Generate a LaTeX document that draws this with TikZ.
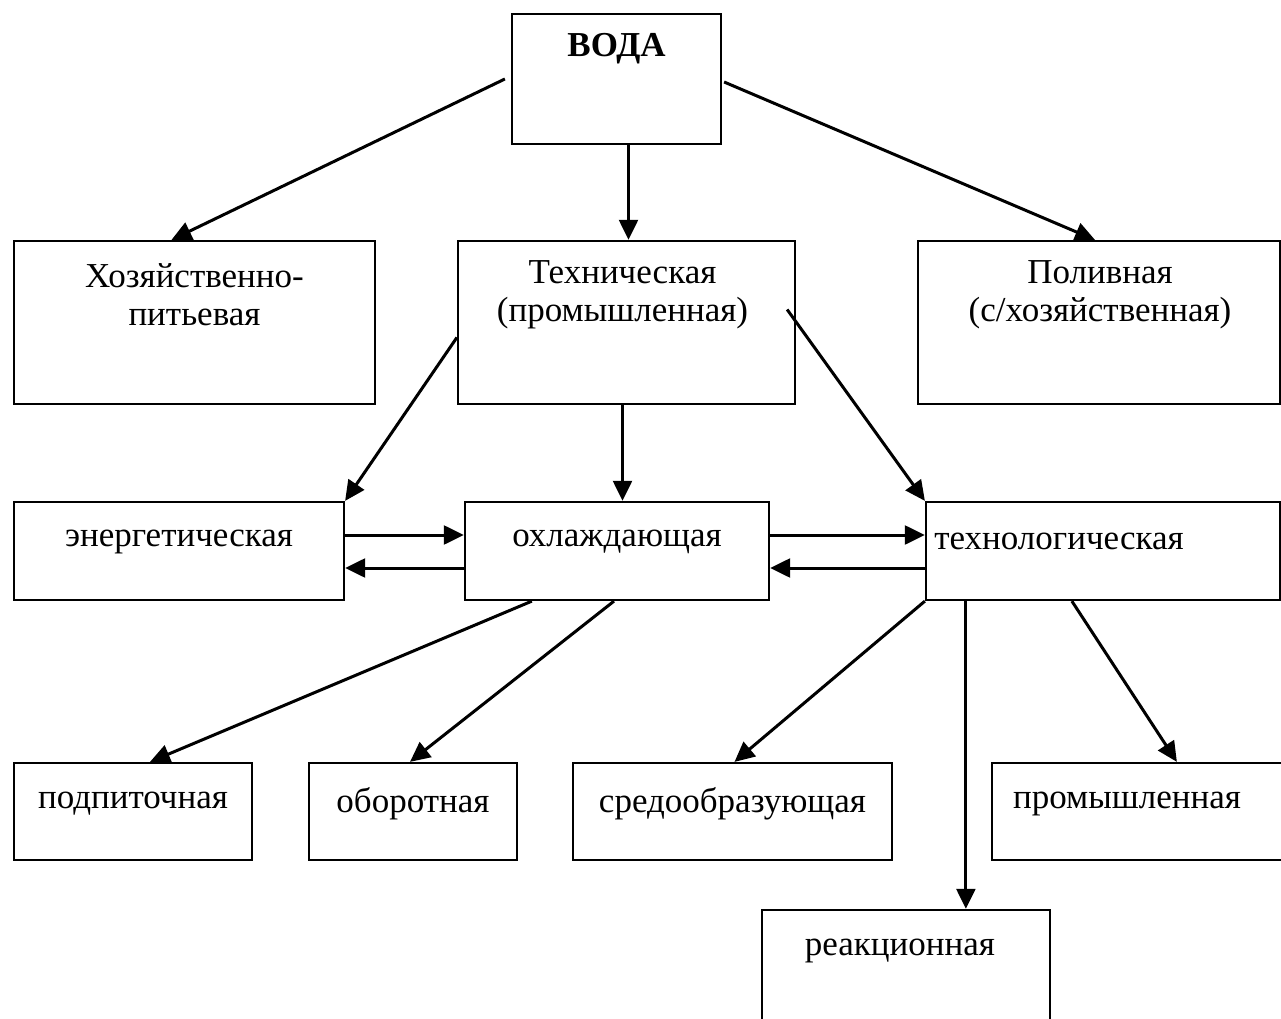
\documentclass[tikz,border=0pt]{standalone}
\usepackage{fontspec}
\setmainfont{Liberation Serif}
\usetikzlibrary{arrows.meta, calc}

\tikzset{
  box/.style 2 args={draw, line width=0.9pt, inner sep=0pt,
    minimum width=#1*0.4pt, minimum height=#2*0.4pt},
  lbl/.style={inner sep=0pt, align=center, font=\fontsize{14}{15}\selectfont},
  arr/.style={-{Triangle[length=8pt,width=7.5pt]}, line width=1.2pt}
}

\begin{document}
\begin{tikzpicture}[x=0.4pt, y=-0.4pt]
  \path[use as bounding box, clip] (0,0) rectangle (1281,1019);
  % boxes
  \node[box={209}{130}] (voda) at (616.5,79) {};
  \node[box={361}{163}] (khoz) at (194.5,322.5) {};
  \node[box={337}{163}] (tekh) at (626.5,322.5) {};
  \node[box={362}{163}] (poliv) at (1099,322.5) {};
  \node[box={330}{98}] (energ) at (179,551) {};
  \node[box={304}{98}] (okhl) at (617,551) {};
  \node[box={354}{98}] (tekhnol) at (1103,551) {};
  \node[box={238}{97}] (podp) at (133,811.5) {};
  \node[box={208}{97}] (oborot) at (413,811.5) {};
  \node[box={319}{97}] (sredo) at (732.5,811.5) {};
  \node[box={308}{97}] (prom) at (1146,811.5) {};
  \node[box={288}{130}] (reakts) at (906,975) {};
  % texts
  \node[lbl, font=\fontsize{14}{15}\selectfont\bfseries] at ($(voda.north)+(0,36)$) {ВОДА};
  \node[lbl] at ($(khoz.north)+(0,55)$) {Хозяйственно-\\питьевая};
  \node[lbl] at ($(tekh.north)+(-4,55)$) {Техническая\\(промышленная)};
  \node[lbl] at ($(poliv.north)+(1,55)$) {Поливная\\(с/хозяйственная)};
  \node[lbl] at ($(energ.north)+(0,41)$) {энергетическая};
  \node[lbl] at ($(okhl.north)+(0,41)$) {охлаждающая};
  \node[lbl] at ($(tekhnol.north)+(-44,41)$) {технологическая};
  \node[lbl] at ($(podp.north)+(0,42)$) {подпиточная};
  \node[lbl] at ($(oborot.north)+(0,42)$) {оборотная};
  \node[lbl] at ($(sredo.north)+(0,42)$) {средообразующая};
  \node[lbl] at ($(prom.north)+(-19,42)$) {промышленная};
  \node[lbl] at ($(reakts.north)+(-6,42)$) {реакционная};
  % arrows
  \draw[arr] ($(voda.west)+(-6,0)$) -- ($(khoz.north)+(-23,0)$);
  \draw[arr] ($(voda.south)+(12,0)$) -- ({$(voda.south)+(12,0)$} |- tekh.north);
  \draw[arr] ($(voda.east)+(2,3)$) -- ($(poliv.north)+(-4,0)$);
  \draw[arr] ($(tekh.west)+(0,15)$) -- (energ.north east);
  \draw[arr] ($(tekh.south)+(-4,0)$) -- ({$(tekh.south)+(-4,0)$} |- okhl.north);
  \draw[arr] ($(tekh.east)+(-9,-13)$) -- (tekhnol.north west);
  \draw[arr] ($(energ.east)+(0,-16)$) -- ({$(energ.east)+(0,-16)$} -| okhl.west);
  \draw[arr] ($(okhl.west)+(0,17)$) -- ({$(okhl.west)+(0,17)$} -| energ.east);
  \draw[arr] ($(okhl.east)+(0,-16)$) -- ({$(okhl.east)+(0,-16)$} -| tekhnol.west);
  \draw[arr] ($(tekhnol.west)+(0,17)$) -- ({$(tekhnol.west)+(0,17)$} -| okhl.east);
  \draw[arr] ($(okhl.south west)+(68,0)$) -- ($(podp.north)+(17,0)$);
  \draw[arr] ($(okhl.south)+(-3,0)$) -- ($(oborot.north)+(-3,0)$);
  \draw[arr] (tekhnol.south west) -- ($(sredo.north)+(2,0)$);
  \draw[arr] ($(tekhnol.south west)+(41,0)$) -- ({$(tekhnol.south west)+(41,0)$} |- reakts.north);
  \draw[arr] ($(tekhnol.south west)+(147,0)$) -- ($(prom.north west)+(186,0)$);
\end{tikzpicture}
\end{document}
